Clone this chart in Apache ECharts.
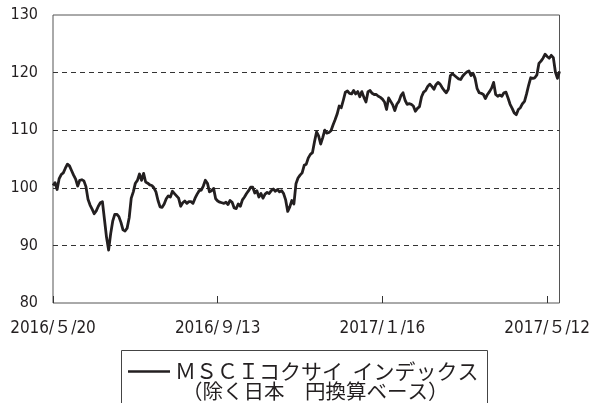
<!DOCTYPE html>
<html>
<head>
<meta charset="utf-8">
<script src="https://cdn.jsdelivr.net/npm/echarts@6/dist/echarts.min.js"></script>
<style>
html,body{margin:0;padding:0;background:#fff;}
#chart{width:593px;height:403px;}
</style>
</head>
<body>
<div id="chart"></div>
<script>
// Series name (legend)
const seriesName = 'ＭＳＣＩコクサイ  インデックス';
const seriesNote = '（除く日本　円換算ベース）';

// Tick positions (trading-day index) and their labels
const tickIndex = [0, 80, 160, 240];
const tickLabels = ['2016/５/20', '2016/９/13', '2017/１/16', '2017/５/12'];
const lastIndex = 246;

// Y axis
const yMin = 80, yMax = 130, yStep = 10;

// Daily index values, index 0 = 2016/5/20
const values = [
  100.4, 100.9, 99.7, 101.6, 102.3, 102.6, 103.4, 104.1, 103.8, 103.0,
  102.2, 101.5, 100.3, 101.3, 101.4, 101.2, 100.2, 98.0, 97.0, 96.3,
  95.5, 96.0, 96.8, 97.4, 97.6, 94.5, 91.4, 89.2, 92.0, 94.2,
  95.4, 95.4, 95.0, 94.0, 92.7, 92.5, 93.0, 94.8, 98.2, 99.3,
  100.8, 101.3, 102.4, 101.3, 102.5, 101.0, 100.8, 100.5, 100.4, 100.0,
  99.3, 97.8, 96.7, 96.6, 97.2, 98.1, 98.6, 98.4, 99.4, 99.0,
  98.6, 98.2, 96.8, 97.4, 97.7, 97.3, 97.6, 97.6, 97.3, 98.2,
  98.9, 99.5, 99.6, 100.3, 101.3, 100.8, 99.3, 99.5, 99.9, 98.1,
  97.7, 97.5, 97.4, 97.3, 97.5, 97.1, 97.8, 97.5, 96.5, 96.4,
  97.2, 96.8, 97.9, 98.4, 99.0, 99.5, 100.1, 100.1, 99.1, 99.5,
  98.4, 99.0, 98.2, 98.9, 99.2, 99.0, 99.5, 99.8, 99.4, 99.7,
  99.3, 99.5, 99.0, 97.9, 95.9, 96.7, 97.8, 97.2, 100.7, 101.7,
  102.2, 102.6, 103.9, 104.1, 105.2, 105.8, 106.1, 108.0, 109.7, 109.0,
  107.6, 108.7, 110.0, 109.5, 109.6, 109.9, 110.9, 111.8, 112.8, 114.2,
  113.9, 115.2, 116.6, 116.8, 116.4, 116.3, 116.9, 116.3, 116.7, 115.8,
  116.7, 115.7, 114.9, 116.7, 116.9, 116.4, 116.2, 116.2, 115.9, 115.7,
  115.4, 114.9, 113.6, 115.6, 115.0, 114.4, 113.4, 114.5, 115.0, 116.0,
  116.5, 115.2, 114.5, 114.6, 114.5, 114.2, 113.3, 113.8, 114.1, 115.8,
  116.6, 116.9, 117.6, 118.0, 117.6, 117.1, 117.9, 118.3, 118.0, 117.4,
  116.9, 116.5, 117.1, 119.5, 119.8, 119.5, 119.2, 118.9, 118.8, 119.4,
  119.8, 120.1, 120.3, 119.5, 119.9, 119.0, 117.2, 116.5, 116.4, 116.2,
  115.5, 116.2, 116.7, 117.3, 118.3, 116.2, 115.9, 116.1, 115.9, 116.5,
  116.6, 115.6, 114.5, 113.8, 113.0, 112.7, 113.6, 113.9, 114.6, 115.0,
  116.3, 117.8, 119.1, 119.0, 119.1, 119.6, 121.6, 122.0, 122.5, 123.2,
  122.8, 122.5, 123.0, 122.6, 120.1, 119.0, 120.2
];

const seriesData = values.map((v, i) => [i, v]);
const labelMap = {};
tickIndex.forEach((t, k) => { labelMap[t] = tickLabels[k]; });

const ink = '#231f20';
const chart = echarts.init(document.getElementById('chart'), null, {renderer: 'canvas'});
chart.setOption({
  animation: false,
  backgroundColor: '#ffffff',
  grid: {
    left: 53, right: 31, top: 15, bottom: 100,
    show: true, borderColor: '#555555', borderWidth: 1, backgroundColor: 'transparent'
  },
  xAxis: {
    type: 'value',
    min: 0, max: lastIndex, interval: 80,
    axisLine: {show: false},
    axisTick: {show: true, inside: true, length: 7, lineStyle: {color: '#333', width: 1}},
    splitLine: {show: false},
    axisLabel: {
      margin: 17,
      showMaxLabel: false,
      color: ink,
      fontSize: 17,
      fontFamily: "'DejaVu Sans Condensed', 'Noto Sans CJK JP', sans-serif",
      formatter: (val) => labelMap[val] !== undefined ? labelMap[val] : ''
    }
  },
  yAxis: {
    type: 'value',
    min: yMin, max: yMax, interval: yStep,
    axisLine: {show: false},
    axisTick: {show: false},
    splitLine: {
      show: true, showMinLine: false, showMaxLine: false,
      lineStyle: {color: '#333333', width: 1, type: [5, 4]}
    },
    axisLabel: {
      margin: 15,
      color: ink,
      fontSize: 16,
      fontFamily: "'DejaVu Sans Condensed', sans-serif"
    }
  },
  legend: {
    show: true,
    left: 128, top: 361,
    padding: 0,
    icon: 'rect',
    itemWidth: 42, itemHeight: 2.5,
    itemGap: 5,
    textStyle: {
      color: ink, fontSize: 21,
      fontFamily: "'Noto Sans CJK JP', sans-serif"
    },
    data: [seriesName]
  },
  graphic: [
    {
      type: 'rect', z: 10, silent: true,
      shape: {x: 121.5, y: 350.5, width: 366, height: 70},
      style: {fill: 'none', stroke: '#444444', lineWidth: 1}
    },
    {
      type: 'text', z: 10, silent: true,
      left: 182, top: 381,
      style: {
        text: seriesNote, fill: ink, fontSize: 20.5,
        fontFamily: "'Noto Sans CJK JP', sans-serif"
      }
    }
  ],
  series: [{
    name: seriesName,
    type: 'line',
    data: seriesData,
    showSymbol: false,
    symbol: 'none',
    lineStyle: {color: ink, width: 2.8, join: 'round'},
    itemStyle: {color: ink},
    clip: true
  }]
});
</script>
</body>
</html>
